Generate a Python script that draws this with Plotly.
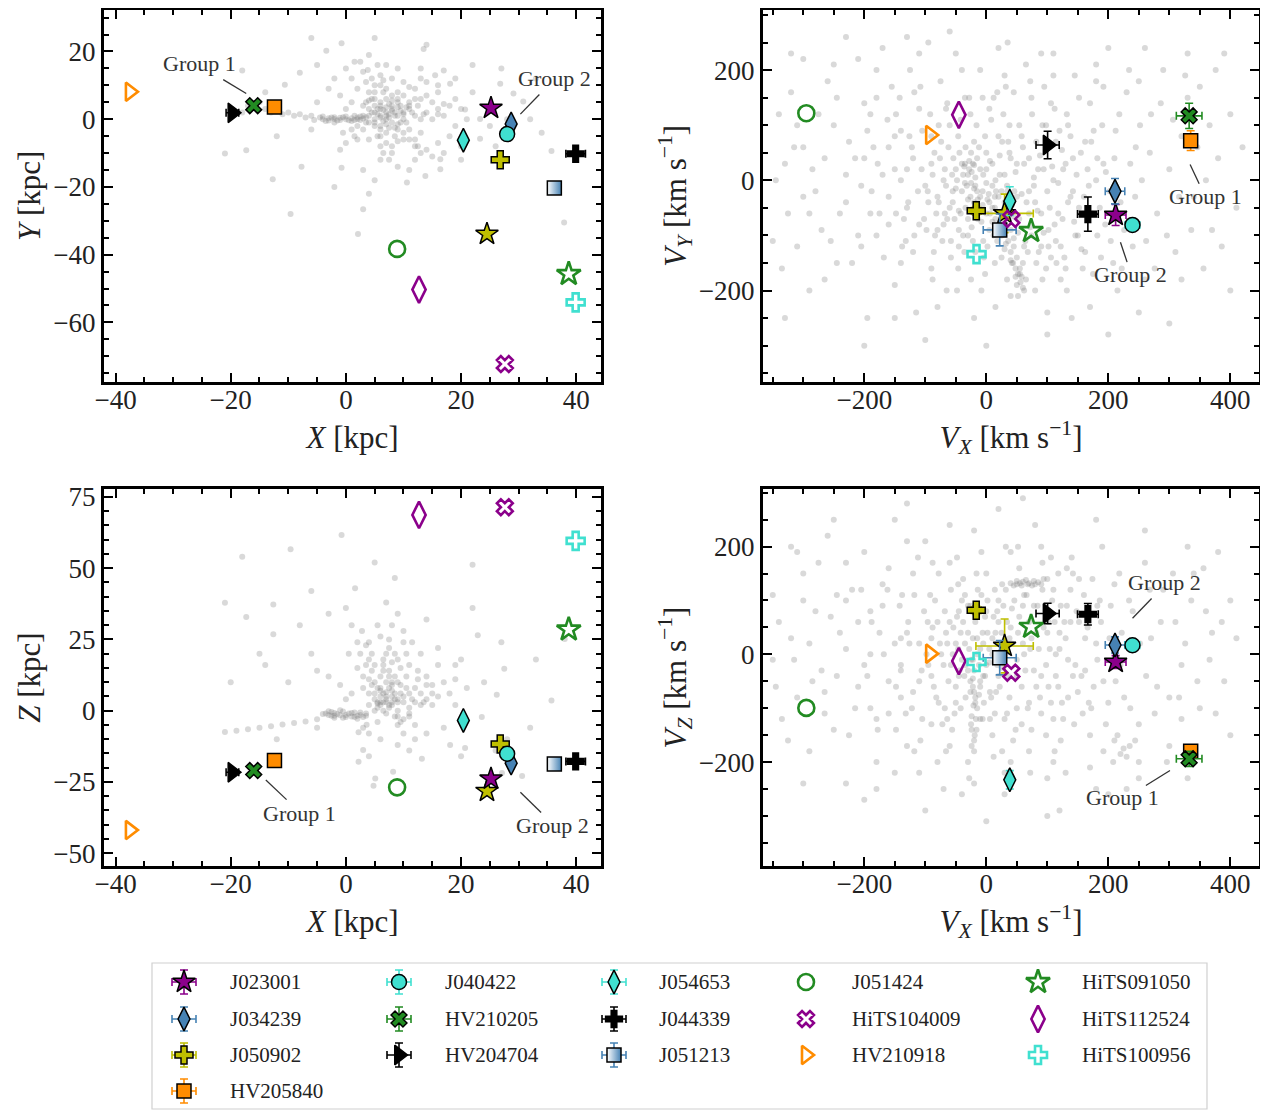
import plotly.graph_objects as go

# ---------------- data ----------------
names = ["J023001", "J034239", "J050902", "HV205840", "J040422", "HV210205", "HV204704",
         "J054653", "J044339", "J051213", "J051424", "HiTS104009", "HV210918",
         "HiTS091050", "HiTS112524", "HiTS100956"]
pos_x = [25.2, 28.7, 26.8, -12.4, 28.0, -16.0, -19.7, 20.4, 39.9, 36.2, 8.9, 27.6, -37.5, 38.7, 12.7, 39.9]
pos_y = [3.3, -1.4, -12.0, 3.6, -4.4, 4.0, 1.9, -6.2, -10.2, -20.3, -38.3, -72.3, 8.1, -45.7, -50.3, -54.1]
pos_z = [-23.9, -18.4, -11.7, -17.5, -15.1, -21.0, -21.6, -3.4, -17.8, -18.7, -26.9, 71.4, -41.9, 28.5, 68.7, 59.6]
vel_x = [212, 211, -16.5, 335, 239.6, 332.5, 100.5, 38.5, 166.5, 22, -295, 41, -92, 73.5, -45, -16]
vel_y = [-63, -19.8, -55.3, 72, -81, 117, 64.1, -37.8, -61.3, -90, 121.8, -70, 82.2, -92, 118.9, -134]
vel_z = [-14.3, 17.4, 82, -180, 16.8, -194, 75.8, -233, 74.5, -6.2, -99.4, -34, 1.3, 51, -12.4, -14.3]
err_x = [0, 0, 0, 0, 0, 0, 1.1, 0, 1.7, 0.6, 0, 0, 0, 0, 0, 0]
err_y = [0, 0, 0, 0, 0, 0, 0, 0, 0, 0, 0, 0, 0, 0, 0, 0]
err_z = [0, 0, 0, 0, 0, 0, 0, 0, 0, 0, 0, 0, 0, 0, 0, 0]
err_vx = [17, 16, 8, 6, 12, 21, 19, 6, 17, 27, 0, 0, 0, 0, 0, 0]
err_vy = [19, 23, 8, 18, 8, 23, 25, 26, 31, 29, 0, 0, 0, 0, 0, 0]
err_vz = [12, 15, 8, 10, 12, 14, 19, 17, 20, 32, 0, 0, 0, 0, 0, 0]

# one further object drawn without a legend entry (yellow star)
extra_name = "unlabeled"
extra_pos = [24.5, -33.9, -28.2]
extra_vel = [30, -60, 15.5]
extra_err_pos = [0, 1.0, 0]
extra_err_vel = [47, 35, 50]

# background simulation cloud (hand-read, approximate)
bg_xy = [(-4, 0), (-3, 0.3), (-2, 0.1), (-1, 0.4), (0, 0), (1, 0.3), (2, 0.5), (3, 0.2), (-3.5, -0.5),
         (-1.5, -0.4), (0.5, -0.3), (2.5, -0.2), (-6, 1), (-8, 1.5), (-10, 2), (-12, 2.5), (-14, 3),
         (-9, 1), (-7, 0.5), (7, 2), (5, 2), (6, 4), (7, 6), (8, 3), (9, 1), (10, 0), (8, -1), (6, -2),
         (5, 0), (4, 3), (9, 5), (11, 3), (12, 1), (7, 0), (6, 1), (4, 8), (3.5, 11), (3, 14), (2.5, 17),
         (5, 10), (6, 13), (5.5, 16), (7, 9), (8, 12), (10, 7), (12, 9), (14, 11), (15.5, 13), (11, 5),
         (13, 6), (16, 8), (14, 2), (16, 3), (18, 4), (20, 3), (15, 0), (17, 1), (10, -4), (12, -6),
         (14, -9), (15, -11), (11, -3), (13, -4), (16, -7), (18, -5), (7, -4), (7, -7), (6.5, -10),
         (6, -12), (8, -8), (3, -3), (1.5, -5), (0, -7), (-1, -9), (2, -2), (1, 5), (-1, 7), (-3, 9),
         (0, 3), (-0.75, 22.4), (-3.4, 20.2), (13.5, 20.7), (1.5, 17), (4, 19), (-8, 13.7), (-10.6, 10.2),
         (-18, 14.4), (-21, -10.1), (-17.3, -9.2), (-12.7, -17.7), (-9.6, -28), (2.1, -33.9), (3, -26.6),
         (-7.7, -14), (-0.75, -14.3), (3, -15), (10.6, -18.7), (13.8, -16.8), (16.4, -14.8), (18.1, 10.5),
         (17, 14.4), (20.7, 2.9), (23.3, 0.1), (23.3, -5.8), (26.8, 10.5), (29.1, 7.6), (30.8, 5.2),
         (35.7, -9.4), (37.9, -30.5), (16.4, -11.8), (-5, 5), (-6, -3), (22, 8), (20, -8), (9, 15),
         (-2, 12), (12, -12), (25, -2), (19, 12), (-11, 1.5), (-13, 2), (8, 7), (9, -3), (5, 6), (10, 2),
         (6.5, 2.7), (7.5, 1.5), (8.5, 2), (5.5, 3), (6, 0.5), (8, 4), (9.5, 2.5), (7, -1.5), (5, -1),
         (4, 1), (10.5, 3.5), (11.5, 2), (9, 6), (7.5, 4.5), (6.5, 8), (4.5, 6), (3.5, 5), (12.5, 4),
         (13.5, 1.5), (8.5, -2.5), (9.5, -1), (10, -6), (12, -8), (13, -10), (5.5, -5), (4, -6), (6, -8),
         (8.5, -5), (-2, -1), (-4.5, 0.5), (-5.5, -0.2), (1.5, 1), (3.5, -1), (2, 9), (1, 12), (0, 15),
         (7, 16), (10, 11), (13, 15), (16, 10), (19, 6), (21, 0), (19, -2), (17, -10), (20, -12),
         (11, -15), (5, -18), (-2, -20), (-5, 16), (-15, 5), (-18, 2), (-17, 4), (28, 0), (32, 0),
         (34, -4), (26, -8), (14, 22), (22, 16), (-12, -5), (-14, 8), (9, -14), (4, -22), (27, 15),
         (33, 12), (-6, 24), (5, 24)]
bg_xy_core = [(6, 3), (7, 3.5), (8, 2.5), (7.5, 0.5), (6.5, -0.5), (5.5, 1.5), (8.5, 1), (9, 3.5), (6, 5),
              (7, 1), (8, 5.5), (5, 4), (4.5, 2), (9.5, 4), (10, 1.5), (11, 4), (10.5, -1), (9, -1.5),
              (7.5, -2.5), (6, -3), (5, -2), (4, -1), (3, 1), (3, 4), (4, 5.5), (5, 8), (6, 10), (6.5, 11.5),
              (4.5, 12), (3.8, 14.5), (9, 8), (11, 9.5), (13, 12), (12, 6), (14, 7), (15, 5), (17, 4.5),
              (16, 1.5), (13, 0), (11, -6), (12.5, -8), (9, -6.5), (8, -10), (7.5, -12), (6, -5), (1, -3),
              (-0.5, -4), (2, -6), (-2, 0.6), (-3, -0.4), (0, 0.8), (1, -0.5), (2, 0), (-1, -0.2),
              (-4, 0.8), (3.5, 0.6), (-2.5, 0.5), (1.5, -0.2), (-0.5, 0.6), (2.5, 0.8)]
bg_xz = [(-3.5, -1), (-2.5, -0.5), (-1.5, -1.2), (-0.5, -0.3), (0.5, -1), (1.5, -0.6), (2.5, -1.5),
         (3.5, -1), (-2, -2.5), (0, -2.2), (2, -2.8), (-1, 0.2), (-5, -3), (-7, -3.8), (-9, -4.3),
         (-11, -4.8), (-13, -5.5), (-15, -6), (-17, -6.5), (-19, -7), (-21, -7.5), (3.6, -4.9), (3, -6),
         (2.2, -7.6), (7, 3), (6, 2), (7, 4), (8, 2), (6.5, 6), (7.5, 8), (8, 5), (5, 4), (9, 3), (10, 5),
         (11, 1), (5.5, 1), (9, 0), (5, 10), (4.5, 14), (4, 18), (3.5, 23), (2.8, 28), (6, 12), (6.5, 16),
         (7, 20), (7.5, 25), (8, 30), (2, 15), (0.5, 20), (8.5, 12), (9.5, 15), (10.5, 20), (11.5, 24),
         (12, 8), (14, 12), (16, 16), (13, 6), (15, 9), (17, 10), (12, 3), (14, 4), (16, 5), (18, 6),
         (19, 11), (15, 2), (10, -3), (12, -5), (14, -8), (9, -5), (11, -2), (1, 6), (-1, 9), (-3, 12),
         (-5, 14), (3, 8), (0, 4), (-0.75, 61.7), (-18, 54), (-9.6, 56.7), (-21, 37.9), (-17.3, 32.9),
         (-12.6, 37.3), (-12.6, 26.8), (8.5, 46.6), (22, 51.2), (22.9, 26.5), (38, 25.2), (35.7, 3.6),
         (26.2, 5.6), (27.5, 14.7), (13.2, -16.9), (8.2, -21.4), (4.8, -26.3), (5.1, -23.8), (2.2, -17.9),
         (3, -13.8), (18.1, -12), (20.7, -13.1), (30.6, -22.9), (27.1, -21.9), (23.6, -2.2), (1.6, 43),
         (-6, 20), (-8, 30), (20, 18), (24, 10), (-3, 34), (6, 7), (8, 9), (7.5, 14), (4, 11),
         (6.5, 3), (7.5, 2), (8.5, 4), (5.5, 2.5), (6, 5), (8, 7), (9.5, 6), (7, 10), (5.5, 8), (4, 6),
         (10.5, 8), (11.5, 4), (9, 10), (7.5, 12), (6.5, 18), (4.5, 20), (3.5, 16), (12.5, 11), (13.5, 3),
         (8.5, -2), (9.5, -4), (10, -8), (12, -10), (5.5, -4), (4, -8), (6, -10), (-2, -1.8), (-3, -0.2),
         (1, -2), (3, -2.2), (2, 24), (1, 30), (0, 36), (7, 38), (10, 28), (13, 20), (16, 22), (19, 16),
         (21, 8), (19, 2), (17, -6), (20, -16), (11, -14), (-5, -6), (-10, 10), (-15, 20), (-20, 10),
         (28, -10), (32, -6), (26, -14), (14, 32), (22, 36), (-12, -10), (-14, 16), (9, -12), (4, -16),
         (27, 24), (33, 18), (-6, 42), (5, 52)]
bg_xz_core = [(6, 3), (7, 5), (8, 3), (7.5, 1), (6.5, 0), (5.5, 3), (8.5, 6), (9, 4), (6, 8), (7, 6.5),
              (8, 10), (5, 6), (4.5, 9), (9.5, 9), (10, 3), (11, 6), (10.5, 12), (9, 18), (7.5, 22), (6, 26),
              (5, 16), (4, 24), (3, 12), (2.5, 20), (6.5, 14), (8, 17), (11, 16), (12.5, 14), (14, 9),
              (15, 6), (13, 2), (11, -1), (9, -2), (7, -1), (5, 0), (4, 2), (-2, -0.8), (-3, -1.5),
              (0, -1.5), (1, -0.8), (2, -1.8), (-1, -1.6), (-4, -1.2), (3.5, -1.8), (-2.5, -1.8),
              (1.5, -2.2), (-0.5, -2.5), (2.5, -0.6), (8.5, 20), (10, 24), (5.5, 30), (9, 34)]
bg_vxvy = [(-320, 160), (-300, 60), (-330, 30), (-280, -20), (-310, -120), (-290, -200), (-260, 180),
           (-250, 100), (-240, -60), (-230, 10), (-220, -150), (-210, 220), (-200, 140), (-195, -250),
           (-185, 60), (-180, -100), (-170, 240), (-160, -30), (-155, 170), (-150, -190), (-140, 90),
           (-135, -70), (-130, 20), (-125, 200), (-120, -130), (-115, -240), (-110, 130), (-100, -10),
           (-95, 250), (-90, -160), (-85, 50), (-80, -90), (-75, 180), (-70, 0), (-65, -200), (-60, 100),
           (-55, -40), (-50, 230), (-45, -120), (-40, 30), (-35, 150), (-30, -70), (-25, -180), (-20, 70),
           (-15, -20), (-10, 200), (-5, -110), (0, 20), (5, 130), (10, -50), (15, -230), (20, 80),
           (25, -140), (30, 10), (35, 250), (40, -90), (45, 160), (50, -30), (55, -170), (60, 60),
           (65, 210), (70, -60), (75, 120), (80, -200), (85, 20), (90, -120), (95, 170), (100, -20),
           (110, 230), (115, -150), (120, 90), (125, -70), (130, 30), (140, -250), (145, 190), (150, -100),
           (155, 50), (160, -30), (170, 140), (175, -170), (180, 0), (190, 100), (195, -80), (200, 240),
           (210, 40), (215, -200), (220, -40), (230, 160), (240, -120), (245, 60), (255, 0), (260, -180),
           (270, 120), (280, -60), (290, 200), (300, 20), (310, -130), (320, 80), (340, -30), (350, 170),
           (370, -90), (380, 40), (400, 120), (-270, -90), (-205, -10), (-150, 20), (-90, 80), (-20, -60),
           (40, 40), (100, 60), (-40, -20), (-30, 10), (-20, -40), (-10, -30), (0, -60), (10, -10),
           (20, -80), (30, -40), (-50, 20), (-35, 30), (-25, -5), (5, -90), (15, -70), (25, -100),
           (35, -20), (45, -120), (50, -140), (55, -160), (60, -150), (65, -180), (45, -105), (-60, -50),
           (-70, -80), (-45, -90), (-15, 40), (0, 50), (70, -20), (80, -40), (-80, -30),
           (-95, -40), (-88, 10), (-82, -60), (-76, 40), (-72, -110), (-66, -10), (-62, 60), (-58, -140),
           (-52, -70), (-48, 0), (-44, 50), (-38, -100), (-34, -50), (-28, 20), (-24, -85), (-18, -10),
           (-12, 60), (-8, -75), (-4, -140), (2, -35), (6, 35), (12, -100), (16, -20), (22, 45), (26, -60),
           (32, -115), (36, 70), (42, -45), (48, 15), (52, -95), (58, -25), (62, 30), (68, -130), (72, -85),
           (78, 5), (84, -55), (88, 45), (94, -95), (98, -160), (104, -50), (108, 25), (114, -110),
           (118, -5), (124, 55), (128, -140), (134, -40), (138, 80), (144, -75), (148, 10), (156, -125),
           (162, 70), (168, -10), (174, -60), (182, 40), (188, -140), (196, 15), (204, -110), (212, 90),
           (222, -160), (236, 30), (-128, -40), (-122, 60), (-118, -100), (-106, 20), (-102, -70),
           (-140, -150), (-160, 60), (-175, -60), (-190, 120), (-210, -100), (-225, 70), (-245, -150),
           (-265, 40), (-290, -60), (-310, 100), (-335, -160), (-150, -250), (-80, -230), (-20, -250),
           (40, -210), (100, -240), (170, -230), (250, -240), (320, -180), (360, 0), (330, 150), (260, 240),
           (180, 210), (90, 230), (20, 240), (-60, 270), (-130, 260), (-230, 260), (-300, 220),
           (-330, -250), (-200, -300), (-100, -290), (0, -300), (100, -280), (200, -280), (300, -260),
           (400, -200), (410, -50), (420, 60), (390, 230), (50, -190), (58, -175), (62, -200), (48, -160),
           (40, -145), (30, -125), (-30, -35), (-20, -15), (-10, -55), (0, -5), (10, -75), (20, -30),
           (-230, -40), (-215, 40), (-205, -120), (-195, 90), (-188, -20), (-178, 30), (-168, -140),
           (-162, 110), (-148, -60), (-142, 150), (-132, -110), (-126, 80), (-112, -20), (-108, 170),
           (-98, -90), (-92, 120), (-86, -130), (-78, 100), (-68, -60), (-64, 140), (-56, 10), (-46, -160),
           (-42, 110), (-36, -130), (-26, 120), (-22, -110), (-16, 100), (-6, 150), (-2, -170), (8, 110),
           (14, -150), (18, 160), (28, 120), (34, -180), (38, 100), (44, -65), (54, 100), (64, -110),
           (74, 150), (82, -150), (92, 100), (102, -120), (106, 140), (112, -80), (122, -180), (132, 120),
           (142, -20), (152, 150), (158, -160), (166, 20), (176, 90), (186, -50), (192, 170), (202, -20),
           (208, -150), (218, 120), (226, -90), (234, 200), (244, -30), (252, 100), (262, -110), (268, 50),
           (276, -160), (286, 140), (296, -100), (306, 110), (316, -30), (326, 190), (336, -90), (346, 60),
           (356, -160), (366, 100), (376, 200), (386, -120), (-245, 150), (-255, -110), (-265, -180),
           (-275, 120), (-285, 20), (-300, -30), (-315, 60), (-325, -60), (-340, 120), (-345, 0),
           (-350, -110), (-320, 230), (-250, 210), (-180, 200), (-110, 230), (-40, 200), (30, 190),
           (110, 190), (180, 180), (250, 180), (330, 230), (-35, -5), (-15, -50), (5, -40), (-5, 10),
           (15, 0), (25, -20), (35, -60), (-45, -55), (-55, -20), (-25, 50)]
bg_vxvy_core = [(-140, 0), (-130, -50), (-120, 40), (-110, -80), (-105, 90), (-96, -20), (-90, 30),
                (-84, -100), (-78, -40), (-74, 70), (-68, 20), (-64, -70), (-58, -110), (-54, 40), (-50, -15),
                (-46, 80), (-42, -60), (-38, 10), (-34, 60), (-30, -100), (-26, -30), (-22, 30), (-18, -130),
                (-14, -70), (-10, 20), (-6, -20), (-2, 80), (2, -120), (6, -60), (10, 30), (14, -30),
                (18, -110), (22, 10), (26, 70), (30, -80), (34, -10), (38, 50), (42, -150), (46, -20),
                (50, 30), (54, -70), (58, 80), (62, -120), (66, -40), (70, 40), (74, -100), (78, -10),
                (82, 70), (86, -130), (90, -60), (94, 20), (98, 100), (102, -90), (106, -140), (110, 0),
                (114, 70), (118, -60), (122, -120), (126, 20), (130, -160), (134, 100), (138, -30),
                (142, 40), (146, -100), (-150, 80), (-160, -80), (-170, 10), (-180, 150), (-190, -60),
                (-200, 40), (-148, 120), (-138, -120), (-118, 160), (-88, -180), (-66, 130), (-48, -200),
                (-28, 150), (-8, -200), (12, 150), (32, 170), (52, -210), (72, 180), (92, -180), (112, 130),
                (132, -200), (152, -50), (162, -130), (172, 70), (182, -100), (192, 30), (-24, 15), (-18, 5),
                (-36, 25), (-28, 35), (-20, 28), (-32, -10), (40, -130), (52, -170), (56, -185), (44, -150),
                (48, -175), (60, -195), (36, -110), (-6, -45), (4, -25), (14, -50), (24, -75), (-14, -35)]
bg_vxvz = [(-320, 30), (-310, -80), (-300, 150), (-290, -180), (-280, 80), (-270, -30), (-260, 220),
           (-250, -140), (-240, 40), (-230, -240), (-220, 120), (-210, -60), (-200, 190), (-190, 0),
           (-180, -200), (-170, 90), (-160, -110), (-150, 250), (-140, 30), (-130, -170), (-120, 150),
           (-110, -50), (-100, 210), (-90, -130), (-80, 60), (-70, -250), (-60, 170), (-50, -90),
           (-40, 100), (-30, -200), (-20, 230), (-10, -60), (0, 150), (10, -150), (20, 60), (30, -260),
           (40, 190), (50, -100), (60, 90), (70, -180), (80, 240), (90, -40), (100, 140), (110, -120),
           (120, 40), (130, -220), (140, 180), (150, -70), (160, 110), (170, -150), (180, 20), (190, 200),
           (200, -90), (210, 130), (220, -20), (230, -250), (240, 80), (250, -130), (260, 170), (270, 30),
           (280, -60), (290, 120), (300, -170), (310, 60), (320, -20), (340, 150), (350, -100), (370, 40),
           (390, -50), (400, 100), (-350, -10), (-230, 100), (-140, -20), (-60, -170), (120, -290),
           (-130, 280), (60, 290), (-50, 20), (-40, -10), (-30, 40), (-20, -30), (-10, 10), (0, -20),
           (10, 30), (20, -40), (30, 0), (40, 50), (50, -10), (60, 20), (70, 60), (-60, 60), (-70, -20),
           (-20, -70), (-15, -100), (-25, -130), (-20, -160), (-10, -50), (50, 130), (60, 135), (70, 132),
           (80, 130), (-45, 80), (100, 40), (120, 10), (-90, 30), (215, -150), (225, -175), (230, -190),
           (0, 80), (20, 100), (-35, 110),
           (-95, -20), (-88, 50), (-82, -80), (-76, 20), (-72, -130), (-66, 40), (-62, -50), (-58, 120),
           (-52, -110), (-48, 70), (-44, -30), (-38, 140), (-34, -80), (-28, 10), (-24, -140), (-18, 60),
           (-12, -20), (-8, 110), (-4, -90), (2, 40), (6, -120), (12, 70), (16, -70), (22, 20), (26, -180),
           (32, 120), (36, -40), (42, 85), (48, -140), (52, 40), (58, -60), (62, 110), (68, -100), (72, 10),
           (78, -30), (84, 90), (88, -80), (94, 50), (98, -150), (104, 10), (108, 100), (114, -40),
           (118, 150), (124, -90), (128, 60), (134, -10), (138, 120), (144, -130), (148, 80), (156, -40),
           (162, 30), (168, -90), (174, 140), (182, -10), (188, 60), (196, -130), (204, 90), (212, -50),
           (222, 40), (236, -100), (-128, 60), (-122, -100), (-118, 110), (-106, -30), (-102, 80),
           (-140, -80), (-160, 160), (-175, 40), (-190, -100), (-210, 60), (-225, -150), (-245, 110),
           (-265, -70), (-290, 20), (-310, 190), (-335, -120), (-150, -220), (-80, -200), (-20, -240),
           (40, -200), (100, -230), (170, -210), (250, -200), (320, -120), (360, 80), (330, 200), (260, 230),
           (180, 250), (90, 200), (20, 270), (-60, 240), (-130, 210), (-230, 170), (-300, -240),
           (-200, -270), (-100, -290), (0, -310), (100, -300), (200, -260), (300, -80), (400, -150),
           (410, 30), (380, 190), (-22, -60), (-18, -90), (-24, -115), (-16, -140), (-20, -180), (-12, -75),
           (45, 128), (55, 132), (65, 138), (75, 128), (85, 134), (210, -160), (220, -185), (235, -170),
           (-230, 10), (-215, -100), (-205, 120), (-195, -40), (-188, 60), (-178, -140), (-168, 0),
           (-162, 120), (-148, -60), (-142, 90), (-132, -110), (-126, 20), (-112, 180), (-108, -160),
           (-98, 0), (-92, 110), (-86, -60), (-78, 150), (-68, -100), (-64, 20), (-56, -140), (-46, 130),
           (-42, 40), (-36, -40), (-26, 90), (-22, -10), (-16, 150), (-6, -120), (-2, 70), (8, -80),
           (14, 120), (18, -20), (28, 90), (34, -110), (38, 30), (44, -160), (54, 160), (64, -30),
           (74, -140), (82, 40), (92, 120), (102, -60), (106, 180), (112, 60), (122, -160), (132, 90),
           (142, -40), (152, 140), (158, -110), (166, 50), (176, -60), (186, 100), (192, -180), (202, 30),
           (208, -200), (218, 150), (226, -80), (234, 100), (244, -160), (252, 20), (262, -40), (268, 120),
           (276, -110), (286, 60), (296, -200), (306, 150), (316, -80), (326, 20), (336, 100), (346, -50),
           (356, 160), (366, -10), (376, -110), (386, 60), (-245, -40), (-255, 70), (-265, -110),
           (-275, 170), (-285, -50), (-300, 100), (-315, -10), (-325, -160), (-340, 60), (-345, -60),
           (-350, 110), (-320, 200), (-250, 250), (-180, -250), (-110, -220), (-40, -260), (30, -220),
           (110, -200), (180, -250), (250, -230), (330, -230), (-35, 20), (-15, 30), (5, 10), (-5, -40),
           (15, -10), (25, 40), (35, 20), (-45, -40), (-55, 0), (-25, -10)]
bg_vxvz_core = [(-140, -30), (-130, 40), (-120, -70), (-110, 20), (-105, -120), (-96, 60), (-90, -40),
                (-84, 100), (-78, -90), (-74, 0), (-68, 80), (-64, -120), (-58, -20), (-54, 50), (-50, -60),
                (-46, 10), (-42, -100), (-38, 60), (-34, -20), (-30, 90), (-26, -50), (-22, 30), (-18, -80),
                (-14, 120), (-10, -120), (-6, 40), (-2, -40), (2, 100), (6, -70), (10, 0), (14, -110),
                (18, 80), (22, -60), (26, 130), (30, -120), (34, 60), (38, -80), (42, 20), (46, 100),
                (50, -40), (54, 70), (58, -130), (62, 0), (66, 110), (70, -90), (74, 30), (78, 90), (82, -60),
                (86, 10), (90, -110), (94, 140), (98, -20), (102, 60), (106, -90), (110, 120), (114, 0),
                (118, -60), (122, 90), (126, -120), (130, 30), (134, -80), (138, 60), (142, 150), (146, -20),
                (-150, 20), (-160, -50), (-170, 130), (-180, -120), (-190, 80), (-200, -20), (-148, -140),
                (-138, 110), (-118, -180), (-88, 170), (-66, -180), (-48, 180), (-28, -230), (-8, 190),
                (12, -190), (32, 200), (52, 200), (72, -220), (92, 170), (112, -180), (132, 160), (152, 60),
                (162, -30), (172, -100), (182, 90), (192, -50), (-22, -45), (-19, -150), (-24, -170),
                (-17, -120), (-21, -95), (-26, -70), (50, 136), (58, 128), (68, 130), (78, 136), (90, 130),
                (40, 132), (-5, 20), (5, -15), (15, 40), (-15, 0), (25, -25), (-30, -30)]

# "Group" labels: panel, text, text position, leader line
grp_panel = ["xy", "xy", "vy", "vy", "xz", "xz", "vz", "vz"]
grp_text = ["Group 1", "Group 2", "Group 1", "Group 2", "Group 1", "Group 2", "Group 2", "Group 1"]
grp_tx = [-25.5, 36.2, 358.8, 236.4, -8.1, 35.9, 292.9, 223.2]
grp_ty = [16.4, 12.0, -30.1, -171.2, -36.0, -40.4, 133.6, -265.2]
grp_x0 = [-21.3, 33.6, 334.1, 219.9, -13.9, 30.3, 239.7, 261.6]
grp_y0 = [11.7, 7.3, 28.8, -112.4, -24.3, -28.6, 67.1, -243.6]
grp_x1 = [-17.3, 30.3, 348.9, 230.8, -10.3, 33.9, 271.0, 301.1]
grp_y1 = [7.6, 1.5, -6.1, -148.5, -31.2, -35.7, 103.8, -215.7]

# ---------------- styles ----------------
symbols = ["star", "diamond-tall", "cross", "square", "circle", "x", "triangle-right", "diamond-tall",
           "cross", "square", "circle-open", "x-open", "triangle-right-open", "star-open",
           "diamond-tall-open", "cross-open"]
colors = ["#8b008b", "#4682b4", "#bfbf00", "#ff8c00", "#40e0d0", "#228b22", "#000000", "#40e0d0",
          "#000000", "#4682b4", "#228b22", "#8b008b", "#ff8c00", "#228b22", "#8b008b", "#40e0d0"]
sizes = [17, 17, 15, 14, 15, 14, 17, 17, 14, 14, 16, 14, 16, 18, 19, 15]
filled = [True] * 10 + [False] * 6

FONT = "Liberation Serif, DejaVu Serif, serif"
axes = {"xy": ("x", "y"), "vy": ("x2", "y2"), "xz": ("x3", "y3"), "vz": ("x4", "y4")}

# page geometry: the page body adds an 8 px margin around the figure
OFF = 8
W, H = 1268 - OFF, 1111 - OFF

def fx(px):
    return min(1.0, max(0.0, (px - OFF) / W))

def fy(py):
    return min(1 - 1.5 / H, max(0.0, 1 - (py - OFF) / H))

fig = go.Figure()

def bg(points, panel):
    xa, ya = axes[panel]
    fig.add_trace(go.Scatter(x=[p[0] for p in points], y=[p[1] for p in points], mode="markers",
                             xaxis=xa, yaxis=ya, showlegend=False, hoverinfo="skip",
                             marker=dict(size=6, color="rgba(128,128,128,0.3)", line=dict(width=0))))

bg(bg_xy + bg_xy_core, "xy")
bg(bg_vxvy + bg_vxvy_core, "vy")
bg(bg_xz + bg_xz_core, "xz")
bg(bg_vxvz + bg_vxvz_core, "vz")

def marker_style(sym, col, size, fill, half=False):
    if fill:
        m = dict(symbol=sym, color=col, size=size, line=dict(color="black", width=1.5))
        if half:
            m["color"] = "white"
            m["gradient"] = dict(type="horizontal", color=col)
    else:
        m = dict(symbol=sym, color=col, size=size, line=dict(color=col, width=2.6))
    return m

def err(e, col):
    if e and e > 0:
        return dict(type="data", array=[e], visible=True, color=col, thickness=1.6, width=4)
    return dict(visible=False)

def add_obj(name, sym, col, size, fill, p, v, ep, ev, half=False):
    combos = [("xy", p[0], p[1], ep[0], ep[1]), ("vy", v[0], v[1], ev[0], ev[1]),
              ("xz", p[0], p[2], ep[0], ep[2]), ("vz", v[0], v[2], ev[0], ev[2])]
    for panel, xv, yv, ex, ey in combos:
        xa, ya = axes[panel]
        fig.add_trace(go.Scatter(x=[xv], y=[yv], mode="markers", xaxis=xa, yaxis=ya, name=name,
                                 showlegend=False,
                                 marker=marker_style(sym, col, size, fill, half),
                                 error_x=err(ex, col), error_y=err(ey, col)))

add_obj(extra_name, "star", "#bfbf00", 17, True, extra_pos, extra_vel, extra_err_pos, extra_err_vel)
for i, n in enumerate(names):
    add_obj(n, symbols[i], colors[i], sizes[i], filled[i],
            [pos_x[i], pos_y[i], pos_z[i]], [vel_x[i], vel_y[i], vel_z[i]],
            [err_x[i], err_y[i], err_z[i]], [err_vx[i], err_vy[i], err_vz[i]],
            half=(n == "J051213"))

# ---------------- manual legend (column-major like the reference) ----------------
leg_col_counts = [4, 3, 3, 3, 3]
leg_mx = [184, 399, 614, 806, 1038]
leg_tx = [228, 443, 657, 850, 1080]
leg_rows = [982, 1019, 1055, 1091]
LEG_BOX = (152, 963, 1207, 1109)
annotations = []
k = 0
for c, cnt in enumerate(leg_col_counts):
    for r in range(cnt):
        i = k
        k += 1
        fig.add_trace(go.Scatter(x=[leg_mx[c]], y=[leg_rows[r]], mode="markers", xaxis="x5", yaxis="y5",
                                 showlegend=False, hoverinfo="skip",
                                 marker=marker_style(symbols[i], colors[i], sizes[i], filled[i],
                                                     names[i] == "J051213"),
                                 error_x=err(12 if filled[i] else 0, colors[i]),
                                 error_y=err(12 if filled[i] else 0, colors[i])))
        annotations.append(dict(x=fx(leg_tx[c]), y=fy(leg_rows[r]), xref="paper", yref="paper",
                                text=names[i], showarrow=False, xanchor="left", yanchor="middle",
                                font=dict(family=FONT, size=21, color="#222")))

shapes = [dict(type="rect", xref="paper", yref="paper", x0=fx(LEG_BOX[0]), x1=fx(LEG_BOX[2]),
               y0=fy(LEG_BOX[3]), y1=fy(LEG_BOX[1]), line=dict(color="#d0d0d0", width=1.2),
               fillcolor="rgba(0,0,0,0)", layer="below")]

for j in range(len(grp_text)):
    xa, ya = axes[grp_panel[j]]
    annotations.append(dict(x=grp_tx[j], y=grp_ty[j], xref=xa, yref=ya, text=grp_text[j],
                            showarrow=False, font=dict(family=FONT, size=22, color="#333")))
    shapes.append(dict(type="line", xref=xa, yref=ya, x0=grp_x0[j], y0=grp_y0[j], x1=grp_x1[j],
                       y1=grp_y1[j], line=dict(color="#333", width=1.3)))

# ---------------- axes ----------------
def ax(domain, rng, dtick, minor, title, anchor, standoff, is_x):
    d = dict(domain=domain, range=rng, dtick=dtick, anchor=anchor, ticks="inside", ticklen=9,
             tickwidth=2, tickcolor="black", showline=True, linecolor="black", linewidth=3,
             mirror="allticks", showgrid=False, zeroline=False, automargin=False,
             minor=dict(dtick=minor, ticks="inside", ticklen=5, tickwidth=1.5, tickcolor="black",
                        showgrid=False),
             tickfont=dict(family=FONT, size=27, color="#222"),
             title=dict(text=title, font=dict(family=FONT, size=31, color="#222"), standoff=standoff))
    if is_x:
        d["ticklabelstandoff"] = -8
    return d

dxl = [fx(104), fx(601)]
dxr = [fx(763), fx(1259)]
dyt = [fy(382), fy(5)]
dyb = [fy(866), fy(489)]

vx_title = "<i>V<sub>X</sub></i> [km s<sup>−1</sup>]"
layout = dict(
    width=W, height=H, margin=dict(l=0, r=0, t=0, b=0, autoexpand=False),
    paper_bgcolor="white", plot_bgcolor="white", showlegend=False,
    font=dict(family=FONT, color="#222"),
    xaxis=ax(dxl, [-42.0, 44.3], 20, 5, "<i>X</i> [kpc]", "y", 12, True),
    yaxis=ax(dyt, [-77.6, 32.4], 20, 5, "<i>Y</i> [kpc]", "x", 4, False),
    xaxis2=ax(dxr, [-366, 447], 200, 50, vx_title, "y2", 12, True),
    yaxis2=ax(dyt, [-366, 310], 200, 50, "<i>V<sub>Y</sub></i> [km s<sup>−1</sup>]", "x2", 4, False),
    xaxis3=ax(dxl, [-42.0, 44.3], 20, 5, "<i>X</i> [kpc]", "y3", 12, True),
    yaxis3=ax(dyb, [-54.5, 77.8], 25, 5, "<i>Z</i> [kpc]", "x3", 4, False),
    xaxis4=ax(dxr, [-366, 447], 200, 50, vx_title, "y4", 12, True),
    yaxis4=ax(dyb, [-393, 307], 200, 50, "<i>V<sub>Z</sub></i> [km s<sup>−1</sup>]", "x4", 4, False),
    xaxis5=dict(domain=[fx(LEG_BOX[0]), fx(LEG_BOX[2])], range=[LEG_BOX[0], LEG_BOX[2]], visible=False,
                anchor="y5", fixedrange=True, automargin=False),
    yaxis5=dict(domain=[fy(LEG_BOX[3]), fy(LEG_BOX[1])], range=[LEG_BOX[3], LEG_BOX[1]], visible=False,
                anchor="x5", fixedrange=True, automargin=False),
    annotations=annotations, shapes=shapes,
)
fig.update_layout(**layout)
fig.write_html("out.html")
